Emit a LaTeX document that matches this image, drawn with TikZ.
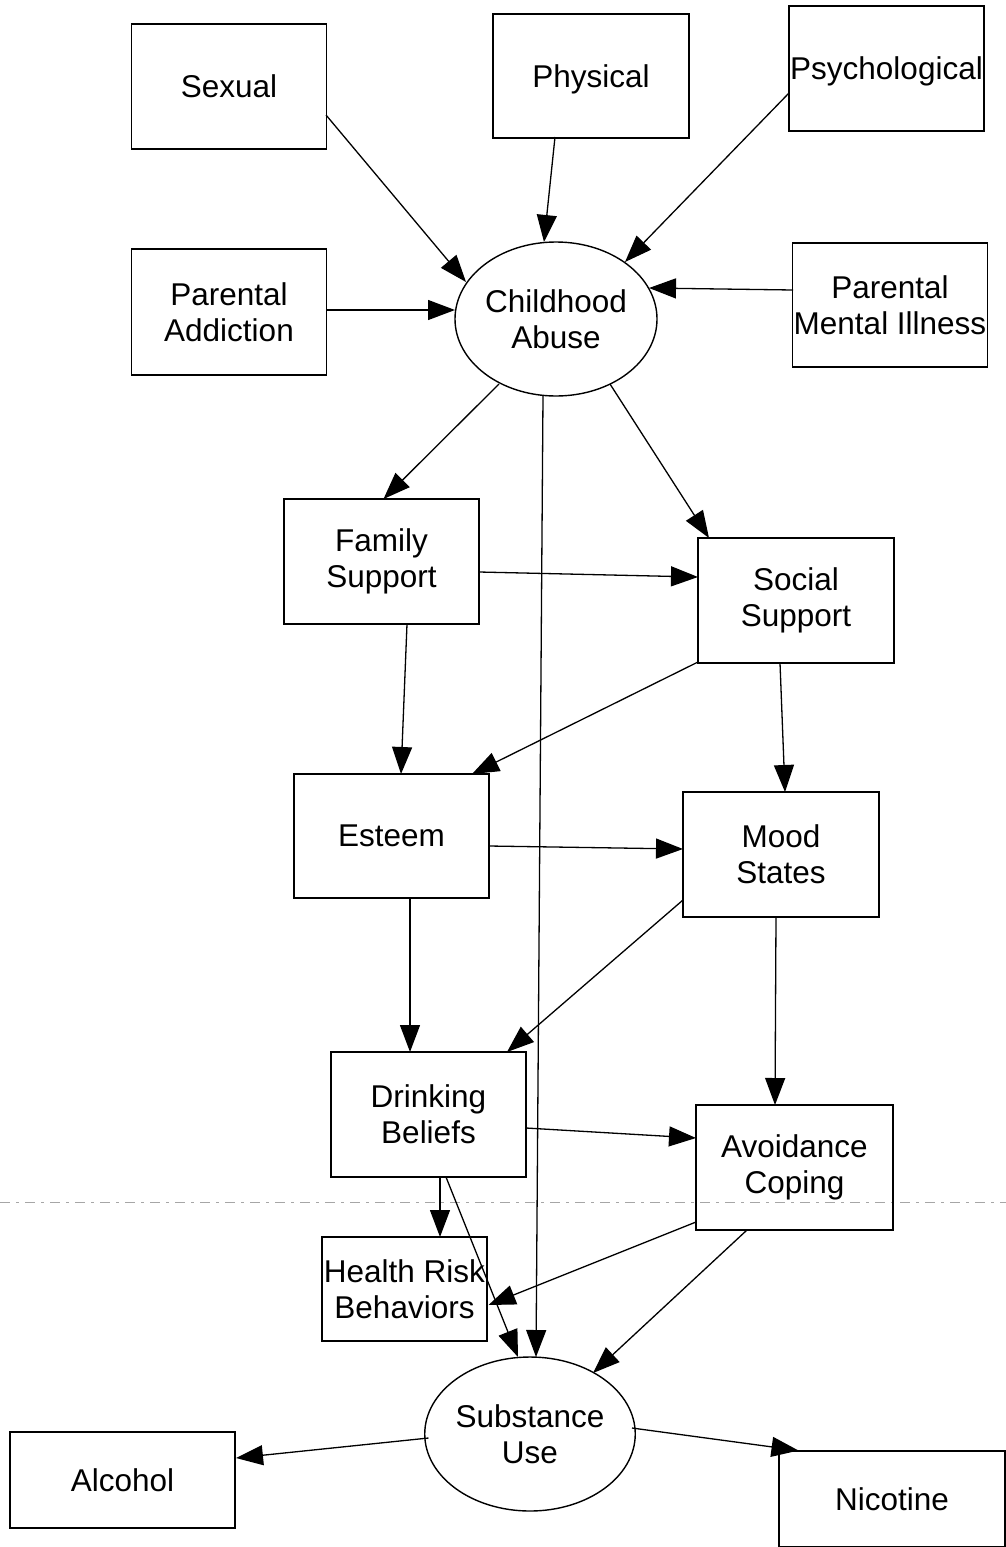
\documentclass[tikz,border=0pt]{standalone}
\usepackage{fontspec}
\setmainfont{Liberation Sans}
\usetikzlibrary{arrows.meta,calc,shapes.geometric}

\begin{document}
\begin{tikzpicture}[x=1pt,y=-1pt,
  lbl/.style={font=\fontsize{31.5}{36}\selectfont, align=center, inner sep=0pt},
  factor/.style={lbl, draw, line width=1.6pt, rectangle, minimum width=195pt, minimum height=125pt},
  latent/.style={lbl, draw, line width=1.4pt, ellipse, minimum width=202pt, minimum height=154pt},
  arr/.style={line width=1.3pt, -{Triangle[length=27pt,width=20pt]}}
]
\useasboundingbox (0,0) rectangle (1006,1547);

% faint fold line crossing the sheet
\draw[gray!70, line width=0.8pt, dash pattern=on 10pt off 6pt on 3pt off 6pt] (0,1202) -- (1006,1202);

% abuse types and family background
\node[factor] (sexual)   at (229,86.5)  {Sexual};
\node[factor, minimum width=196pt, minimum height=124pt, text depth=0pt] (physical) at (591,76) {Physical};
\node[factor, text depth=0pt] (psych)    at (886.5,68.5) {Psychological};
\node[factor, minimum height=126pt] (paddict) at (229,312) {Parental\\Addiction};
\node[factor, minimum height=124pt] (pmental) at (890,305) {Parental\\Mental Illness};

% central constructs
\node[latent] (ca) at (556,319) {Childhood\\Abuse};
\node[factor] (family) at (381.5,561.5) {Family\\Support};
\node[factor, minimum width=196pt] (social) at (796,600.5) {Social\\Support};
\node[factor, minimum height=124pt] (esteem) at (391.5,836) {Esteem};
\node[factor, minimum width=196pt] (mood) at (781,854.5) {Mood\\States};
\node[factor] (drink) at (428.5,1114.5) {Drinking\\Beliefs};
\node[factor, minimum width=197pt] (avoid) at (794.5,1167.5) {Avoidance\\Coping};
\node[factor, minimum width=165pt, minimum height=104pt] (health) at (404.5,1289) {Health Risk\\Behaviors};

% outcomes
\node[latent, minimum width=203pt] (su) at (530,1434) {Substance\\Use};
\node[factor, minimum width=225pt, minimum height=96pt] (alcohol) at (122.5,1480) {Alcohol};
\node[factor, minimum width=226pt, minimum height=96pt] (nicotine) at (892,1499) {Nicotine};

% paths into childhood abuse
\draw[arr] ($(sexual.center)+(97,28.5)$)   -- ($(ca.center)+(-90,-37)$);
\draw[arr] ($(physical.center)+(-36,61)$)  -- ($(ca.center)+(-12,-77)$);
\draw[arr] ($(psych.center)+(-97.5,24.5)$) -- ($(ca.center)+(69,-57)$);
\draw[arr] ($(paddict.center)+(97,-2)$)    -- ($(ca.center)+(-101,-9)$);
\draw[arr] ($(pmental.center)+(-97,-15)$)  -- ($(ca.center)+(93,-31)$);

% paths out of childhood abuse
\draw[arr] ($(ca.center)+(-57,65)$) -- ($(family.center)+(2,-62.5)$);
\draw[arr] ($(ca.center)+(54,65)$)  -- ($(social.center)+(-87,-62.5)$);
\draw[arr] ($(ca.center)+(-13,77)$) -- ($(su.center)+(6,-77)$);

% support, esteem and mood
\draw[arr] ($(family.center)+(97.5,10.5)$) -- ($(social.center)+(-98,-23.5)$);
\draw[arr] ($(family.center)+(25.5,62.5)$) -- ($(esteem.center)+(9.5,-62)$);
\draw[arr] ($(social.center)+(-98,61.5)$)  -- ($(esteem.center)+(80.5,-62)$);
\draw[arr] ($(social.center)+(-16,62.5)$)  -- ($(mood.center)+(4,-62.5)$);
\draw[arr] ($(esteem.center)+(97.5,10)$)   -- ($(mood.center)+(-98,-5.5)$);
\draw[arr] ($(esteem.center)+(18.5,62)$)   -- ($(drink.center)+(-18.5,-62.5)$);
\draw[arr] ($(mood.center)+(-98,45.5)$)    -- ($(drink.center)+(78.5,-62.5)$);
\draw[arr] ($(mood.center)+(-5,62.5)$)     -- ($(avoid.center)+(-19.5,-62.5)$);

% beliefs and coping
\draw[arr] ($(drink.center)+(97.5,13.5)$) -- ($(avoid.center)+(-98.5,-29.5)$);
\draw[arr] ($(drink.center)+(11.5,62.5)$) -- ($(health.center)+(35.5,-52)$);
\draw[arr] ($(drink.center)+(17.5,62.5)$) -- ($(su.center)+(-12,-77)$);
\draw[arr] ($(avoid.center)+(-98.5,54.5)$) -- ($(health.center)+(84,16)$);
\draw[arr] ($(avoid.center)+(-47.5,62.5)$) -- ($(su.center)+(63,-61)$);

% substance use outcomes
\draw[arr] ($(su.center)+(-101.5,4)$) -- ($(alcohol.center)+(113.5,-22)$);
\draw[arr] ($(su.center)+(102,-6)$)   -- ($(nicotine.center)+(-93.5,-48.5)$);
\end{tikzpicture}
\end{document}
